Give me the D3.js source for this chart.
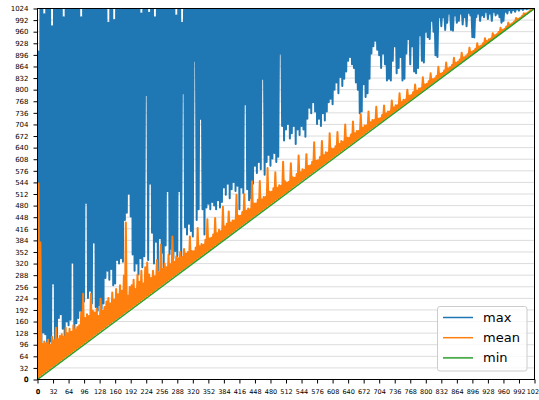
<!DOCTYPE html>
<html>
<head>
<meta charset="utf-8">
<script src="https://cdn.jsdelivr.net/npm/d3@7"></script>
<style>
  body { margin: 0; background: #fff; }
  text { font-family: "DejaVu Sans", sans-serif; }
</style>
</head>
<body>
<svg id="chart" width="539" height="400"></svg>
<script>
// Sample positions (every 2 units from 0 to 1024)
const sampleX = d3.range(0, 1025, 2);

// Largest value at each sample position
const maxVals = [
  0,905,120,1024,100,1024,130,1008,125,1024,95,1024,90,1024,105,975,265,1024,110,1024,
  100,1024,170,1024,180,1024,140,1000,120,1024,160,1024,150,1024,165,1024,323,1024,110,1024,
  155,1024,170,1024,190,1000,175,1024,215,1024,488,1024,225,1024,245,1024,210,1024,378,1024,
  200,1024,190,1024,205,1024,195,1024,210,1024,280,1024,300,985,275,1024,305,1024,260,992,
  265,1024,330,1024,320,1024,335,1024,325,1024,440,1024,460,1024,513,1024,450,1024,345,1024,
  300,1024,320,1024,290,1024,335,1010,310,1024,340,1024,785,1024,330,1012,541,1024,405,1024,
  320,1000,380,1024,300,1024,390,1024,350,1024,310,1024,370,1024,520,1024,345,1024,360,1024,
  335,1024,355,1005,340,1024,520,1024,330,985,790,1024,420,1024,400,1024,430,1024,410,1024,
  395,1024,880,1024,440,1024,470,1024,720,1024,470,1024,400,1024,475,1024,485,1024,470,1024,
  490,1024,480,1024,470,1024,495,1024,475,1024,490,1024,530,1024,510,1024,540,1024,500,1024,
  525,1024,545,1024,520,1024,535,1024,470,1024,530,1024,515,1024,760,1024,525,1024,495,1024,
  500,1024,540,1024,590,1024,570,1024,600,1024,580,1024,830,1024,565,1024,600,1024,620,1024,
  590,1024,610,1024,625,1024,600,1024,615,1024,900,1024,700,1024,660,1024,690,1024,705,1024,
  665,1024,680,1024,700,1024,650,1024,690,1024,675,1024,700,1024,690,1024,670,1024,720,1024,
  750,1024,735,1024,765,1024,740,1024,705,1024,720,1024,700,1024,735,1024,715,1024,740,1024,
  765,1024,775,1024,760,1024,800,1024,820,1024,790,1024,835,1024,810,1024,830,1024,850,1024,
  880,1024,890,1024,870,1024,860,1024,820,1024,800,1024,735,1024,740,1024,815,1024,780,1024,
  790,1024,830,1024,900,1024,920,1024,935,1024,910,1024,895,1024,860,1024,900,1024,870,1024,
  825,1024,830,1024,825,1024,880,1024,920,1024,845,1024,860,1024,890,1024,825,1024,830,1024,
  900,1024,940,1024,870,1024,920,1024,850,1024,845,1024,860,1024,950,1024,880,1024,875,1024,
  960,1024,945,1024,940,1024,990,1024,960,1024,895,1024,890,1024,1000,1024,975,1024,1000,1024,
  965,1024,985,1024,1010,1024,965,1024,963,1024,1005,1024,985,1024,990,1024,1010,1024,980,1024,
  1000,1024,975,1024,1012,1024,1005,1024,945,1024,944,1024,1000,1024,1010,1024,990,1024,1005,1024,
  1000,1024,1015,1024,995,1024,1010,1024,990,1024,1015,1024,1005,1024,1010,1024,1000,1024,985,1024,
  990,1024,1015,1024,1010,1024,1020,1024,1012,1024,1020,1024,1015,1024,1022,1024,1018,1024,1024,1024,
  1020,1024,1024,1024,1022,1024,1024,1024,1024,1024,1024,1024,1024
];

// Average value at each sample position
const meanVals = [
  0,541,6,378,12,98,16,105,20,100,24,110,28,95,32,118,36,108,40,143,
  44,112,48,120,52,125,56,118,60,143,64,128,68,140,72,132,76,150,80,138,
  84,145,88,150,92,185,96,237,100,170,104,180,108,175,112,236,116,190,120,185,
  124,195,128,175,132,223,136,190,140,200,144,215,148,225,152,210,156,240,160,220,
  164,250,168,235,172,260,176,245,180,287,184,433,188,231,192,255,196,260,200,275,
  204,250,208,290,212,270,216,300,220,265,224,310,228,323,232,290,236,280,240,300,
  244,285,248,330,252,295,256,372,260,305,264,320,268,310,272,345,276,318,280,395,
  284,325,288,340,292,335,296,352,300,338,304,360,308,348,312,352,316,395,320,355,
  324,354,328,364,332,418,336,368,340,374,344,372,348,386,352,442,356,389,360,391,
  364,400,368,446,372,404,376,413,380,409,384,477,388,422,392,430,396,464,400,433,
  404,439,408,439,412,510,416,452,420,452,424,462,428,511,432,466,436,472,440,470,
  444,547,448,486,452,486,456,496,460,548,464,497,468,504,472,504,476,584,480,518,
  484,518,488,528,492,572,496,529,500,536,504,535,508,601,512,547,516,544,520,546,
  524,597,528,558,532,557,536,567,540,618,544,572,548,580,552,578,556,622,560,589,
  564,591,568,601,572,655,576,604,580,605,584,614,588,658,592,619,596,627,600,626,
  604,680,608,637,612,636,616,644,620,683,624,650,628,658,632,656,636,704,640,667,
  644,667,648,676,652,712,656,680,660,686,664,686,668,732,672,695,676,701,680,701,
  684,740,688,710,692,716,696,716,700,753,704,720,707,721,711,730,715,756,719,734,
  723,740,727,740,731,770,735,751,739,757,743,757,747,790,751,766,755,772,759,772,
  763,800,767,783,771,785,775,793,779,814,783,797,787,803,791,804,795,834,799,814,
  803,816,807,823,811,845,815,829,819,831,823,838,827,863,831,844,835,846,839,853,
  843,875,847,859,851,862,855,868,859,888,863,874,867,877,871,883,875,902,879,889,
  883,892,887,898,891,916,895,904,899,907,903,912,906,928,910,919,914,922,918,928,
  922,942,926,934,930,939,934,941,938,956,942,950,946,953,950,959,954,971,958,965,
  962,968,966,974,970,985,974,980,978,983,982,988,986,998,990,995,994,998,998,1003,
  1002,1011,1005,1010,1009,1013,1013,1017,1017,1023,1021,1023,1024
];

// Smallest value (a straight run from 0 to 1024)
const minX = [0, 256, 512, 768, 1024];
const minVals = [0, 256, 512, 768, 1024];

const tickValues = d3.range(0, 1025, 32);
const seriesNames = ["max", "mean", "min"];
const seriesColors = ["#1f77b4", "#ff7f0e", "#2ca02c"];
const seriesWidths = [2, 2, 1.5];

(function draw() {
  const svg = d3.select("#chart");
  const plotLeft = 37.5, plotRight = 534.5, plotTop = 8.5, plotBottom = 379.5;

  const x = d3.scaleLinear().domain([0, 1024]).range([plotLeft, plotRight]);
  const y = d3.scaleLinear().domain([0, 1024]).range([plotBottom, plotTop]);

  // horizontal grid
  svg.append("g")
    .selectAll("line")
    .data(tickValues)
    .join("line")
    .attr("x1", plotLeft).attr("x2", plotRight)
    .attr("y1", d => y(d)).attr("y2", d => y(d))
    .attr("stroke", "#dcdcdc")
    .attr("stroke-width", 1);

  svg.append("clipPath").attr("id", "plot-clip")
    .append("rect")
    .attr("x", plotLeft).attr("y", plotTop)
    .attr("width", plotRight - plotLeft).attr("height", plotBottom - plotTop);

  const plot = svg.append("g").attr("clip-path", "url(#plot-clip)");

  const line = d3.line().x(d => x(d[0])).y(d => y(d[1]));

  const seriesData = [
    sampleX.map((v, i) => [v, maxVals[i]]),
    sampleX.map((v, i) => [v, meanVals[i]]),
    minX.map((v, i) => [v, minVals[i]])
  ];

  seriesData.forEach((pts, k) => {
    plot.append("path")
      .datum(pts)
      .attr("d", line)
      .attr("fill", "none")
      .attr("stroke", seriesColors[k])
      .attr("stroke-width", seriesWidths[k])
      .attr("stroke-linejoin", "round");
  });

  // axes
  const yAxis = svg.append("g")
    .attr("transform", `translate(${plotLeft},0)`)
    .call(d3.axisLeft(y).tickValues(tickValues).tickSize(4).tickPadding(5).tickFormat(d3.format("d")));
  yAxis.selectAll("text").attr("font-size", 7).attr("fill", "#000");

  const xAxis = svg.append("g")
    .attr("transform", `translate(0,${plotBottom})`)
    .call(d3.axisBottom(x).tickValues(tickValues).tickSize(4).tickPadding(6).tickFormat(d3.format("d")));
  xAxis.selectAll("text").attr("font-size", 6.5).attr("fill", "#000");

  [xAxis, yAxis].forEach(ax => {
    ax.select(".domain").remove();
    ax.selectAll(".tick line").attr("stroke", "#000").attr("stroke-width", 1);
    ax.selectAll(".tick text").filter(d => d === 0)
      .attr("stroke", "#000").attr("stroke-width", 0.45);
  });

  // frame
  svg.append("rect")
    .attr("x", plotLeft).attr("y", plotTop)
    .attr("width", plotRight - plotLeft).attr("height", plotBottom - plotTop)
    .attr("fill", "none")
    .attr("stroke", "#000")
    .attr("stroke-width", 1);

  // legend
  const lg = svg.append("g");
  lg.append("rect")
    .attr("x", 437.5).attr("y", 306.5)
    .attr("width", 89.5).attr("height", 64.5)
    .attr("rx", 2.5)
    .attr("fill", "#fff").attr("fill-opacity", 0.8)
    .attr("stroke", "#cccccc").attr("stroke-width", 1);

  seriesNames.forEach((name, k) => {
    const cy = 317.5 + k * 20.2;
    lg.append("line")
      .attr("x1", 443).attr("x2", 473)
      .attr("y1", cy).attr("y2", cy)
      .attr("stroke", seriesColors[k]).attr("stroke-width", 1.5);
    lg.append("text")
      .attr("x", 483).attr("y", cy + 4.5)
      .attr("font-size", 13)
      .attr("fill", "#000")
      .text(name);
  });
})();
</script>
</body>
</html>
